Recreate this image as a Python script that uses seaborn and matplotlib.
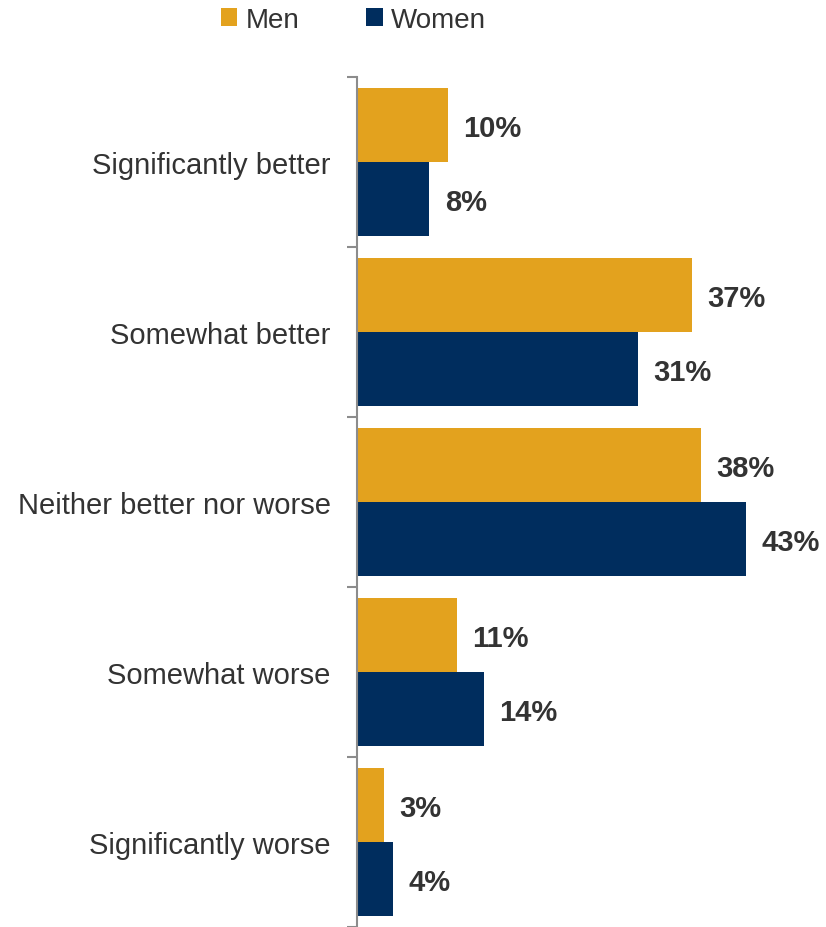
import pandas as pd
import matplotlib.pyplot as plt
import seaborn as sns
from matplotlib.patches import Patch

# values
categories = ["Significantly better", "Somewhat better", "Neither better nor worse",
              "Somewhat worse", "Significantly worse"]
men = [10, 37, 38, 11, 3]
women = [8, 31, 43, 14, 4]
groups = ["Men", "Women"]
colors = {"Men": "#E3A21E", "Women": "#002D5E"}

df = pd.DataFrame({
    "category": categories * 2,
    "value": men + women,
    "group": ["Men"] * len(men) + ["Women"] * len(women),
})

sns.set_style("white")
plt.rcParams['font.family'] = ['Liberation Sans', 'DejaVu Sans']

fig = plt.figure(figsize=(8.26, 9.28), dpi=100)
ax = fig.add_axes([357 / 826, 0.0, 1 - 357 / 826, 1 - 78 / 928])

sns.barplot(data=df, y="category", x="value", hue="group", order=categories,
            hue_order=groups, palette=colors, orient="h", width=0.87,
            saturation=1, linewidth=0, legend=False, ax=ax)

ax.set_xlim(0, 51.8)
ax.set_ylim(len(categories) - 0.5, -0.5)
ax.set_xlabel("")
ax.set_ylabel("")
ax.set_xticks([])

# category labels centred, tick marks on the boundaries
ax.tick_params(axis="y", which="major", left=False, length=0, pad=19,
               labelsize=21, labelcolor="#333333")
ax.set_yticks([i - 0.5 for i in range(len(categories) + 1)], minor=True)
ax.tick_params(axis="y", which="minor", left=True, length=7, width=1.5,
               color="#8C8C8C", direction="out")

for s in ["top", "right", "bottom"]:
    ax.spines[s].set_visible(False)
ax.spines["left"].set_color("#8C8C8C")
ax.spines["left"].set_linewidth(1.5)

# value labels, nudged a little below the bar centre like the original
for container in ax.containers:
    texts = ax.bar_label(container, labels=[f"{v:.0f}%" for v in container.datavalues],
                         padding=11, fontsize=21, fontweight="bold", color="#333333")
    for t in texts:
        t.xyann = (11, -2.5)

handles = [Patch(facecolor=colors[g], edgecolor="none", label=g) for g in groups]
fig.legend(handles=handles, loc="center", bbox_to_anchor=(0.428, 1 - 21 / 928), ncol=2,
           frameon=False, fontsize=20, handlelength=0.6, handleheight=0.6,
           handletextpad=0.3, columnspacing=2.4, labelcolor="#333333")

fig.savefig("out.png", dpi=100)
